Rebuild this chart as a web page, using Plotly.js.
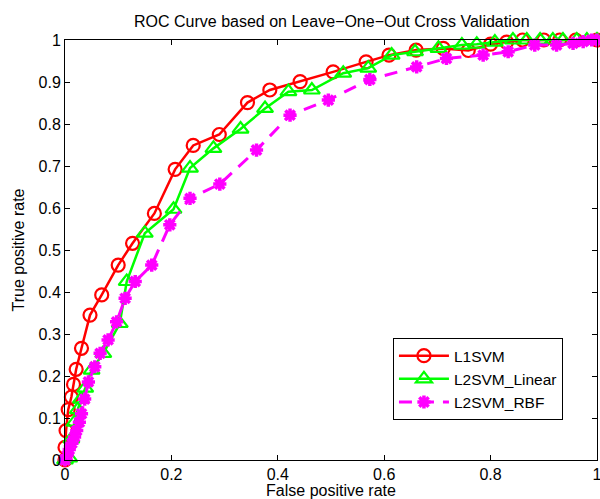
<!DOCTYPE html>
<html>
<head>
<meta charset="utf-8">
<script src="https://cdn.plot.ly/plotly-3.0.1.min.js"></script>
<style>html,body{margin:0;padding:0;background:#fff;}#chart{width:600px;height:499px;}</style>
</head>
<body>
<div id="chart"></div>
<script>
// L1SVM
const l1x = [0, 0, 0.002, 0.006, 0.012, 0.016, 0.021, 0.031, 0.047, 0.069, 0.100, 0.127, 0.168, 0.207, 0.241, 0.290, 0.343, 0.385, 0.442, 0.504, 0.566, 0.609, 0.660, 0.711, 0.758, 0.800, 0.830, 0.860, 0.900, 0.930, 0.960, 1.0];
const l1y = [0, 0.03, 0.07, 0.12, 0.15, 0.18, 0.216, 0.266, 0.345, 0.393, 0.464, 0.516, 0.587, 0.692, 0.749, 0.775, 0.851, 0.881, 0.901, 0.924, 0.948, 0.964, 0.976, 0.980, 0.975, 0.99, 0.995, 1, 1, 1, 1, 1];
// L2SVM_Linear
const l2x = [0, 0.008, 0.012, 0.018, 0.024, 0.030, 0.038, 0.050, 0.072, 0.103, 0.116, 0.150, 0.204, 0.235, 0.279, 0.330, 0.376, 0.420, 0.464, 0.523, 0.570, 0.614, 0.658, 0.702, 0.746, 0.774, 0.808, 0.842, 0.868, 0.893, 0.917, 0.936, 0.962, 0.981, 1.0];
const l2y = [0, 0.005, 0.05, 0.09, 0.12, 0.145, 0.171, 0.214, 0.254, 0.325, 0.425, 0.540, 0.597, 0.695, 0.742, 0.788, 0.837, 0.877, 0.881, 0.921, 0.933, 0.964, 0.972, 0.980, 0.988, 0.990, 0.995, 1, 1, 1, 1, 1, 1, 1, 1];
// L2SVM_RBF
const rbfx = [0, 0.004, 0.008, 0.013, 0.018, 0.022, 0.027, 0.031, 0.037, 0.044, 0.056, 0.066, 0.081, 0.097, 0.113, 0.132, 0.163, 0.197, 0.235, 0.291, 0.360, 0.423, 0.495, 0.573, 0.661, 0.717, 0.786, 0.833, 0.883, 0.924, 0.955, 0.974, 0.99, 1.0];
const rbfy = [0, 0.01, 0.025, 0.04, 0.055, 0.07, 0.09, 0.11, 0.145, 0.186, 0.222, 0.254, 0.286, 0.329, 0.385, 0.425, 0.464, 0.560, 0.623, 0.657, 0.738, 0.821, 0.857, 0.906, 0.936, 0.956, 0.964, 0.972, 0.988, 0.988, 0.992, 0.996, 1.0, 1.0];

const tickVals = [0, 0.1, 0.2, 0.3, 0.4, 0.5, 0.6, 0.7, 0.8, 0.9, 1];
const tickText = ['0', '0.1', '0.2', '0.3', '0.4', '0.5', '0.6', '0.7', '0.8', '0.9', '1'];
const xTickVals = [0, 0.2, 0.4, 0.6, 0.8, 1];
const xTickText = ['0', '0.2', '0.4', '0.6', '0.8', '1'];

const FONT = 'Liberation Sans, Arial, Helvetica, sans-serif';

const traces = [
  {
    x: l1x, y: l1y, name: 'L1SVM', type: 'scatter', mode: 'lines+markers', cliponaxis: false,
    line: {color: '#ff0000', width: 2.5},
    marker: {symbol: 'circle-open', size: 13, color: '#ff0000', line: {color: '#ff0000', width: 2.2}}
  },
  {
    x: l2x, y: l2y, name: 'L2SVM_Linear', type: 'scatter', mode: 'lines+markers', cliponaxis: false,
    line: {color: '#00ff00', width: 2.5},
    marker: {symbol: 'triangle-up-open', size: 14, color: '#00ff00', line: {color: '#00ff00', width: 2.2}}
  },
  {
    x: rbfx, y: rbfy, name: 'L2SVM_RBF', type: 'scatter', mode: 'lines+markers', cliponaxis: false,
    line: {color: '#ff00ff', width: 3, dash: '13px,9px'},
    marker: {symbol: 'asterisk-open', size: 11, color: '#ff00ff', line: {color: '#ff00ff', width: 3.5}}
  }
];

const axisCommon = {
  range: [0, 1], showgrid: false, zeroline: false, showline: true, linecolor: '#000', linewidth: 1,
  mirror: 'ticks', ticks: 'inside', ticklen: 5, tickcolor: '#000', tickwidth: 1,
  tickfont: {family: FONT, size: 16, color: '#000'}, fixedrange: true, ticklabeloverflow: 'allow'
};

const layout = {
  width: 600, height: 499,
  margin: {l: 65, r: 3, t: 40, b: 39},
  paper_bgcolor: '#fff', plot_bgcolor: '#fff',
  font: {family: FONT, color: '#000'},
  title: {text: 'ROC Curve based on Leave\u2212One\u2212Out Cross Validation', font: {family: FONT, size: 16, color: '#000'}, x: 0.553, xanchor: 'center', y: 0.958, yanchor: 'middle'},
  xaxis: Object.assign({}, axisCommon, {
    tickvals: xTickVals, ticktext: xTickText,
    title: {text: 'False positive rate', font: {family: FONT, size: 16, color: '#000'}, standoff: 5}
  }),
  yaxis: Object.assign({}, axisCommon, {
    tickvals: tickVals, ticktext: tickText,
    title: {text: 'True positive rate', font: {family: FONT, size: 16, color: '#000'}, standoff: 9}
  }),
  showlegend: true,
  legend: {
    x: 0.936, xanchor: 'right', y: 0.095, yanchor: 'bottom',
    bgcolor: '#fff', bordercolor: '#000', borderwidth: 1,
    font: {family: FONT, size: 15.5, color: '#000'},
    tracegroupgap: 0, itemwidth: 50
  }
};

Plotly.newPlot('chart', traces, layout, {displayModeBar: false, staticPlot: true});
</script>
</body>
</html>
